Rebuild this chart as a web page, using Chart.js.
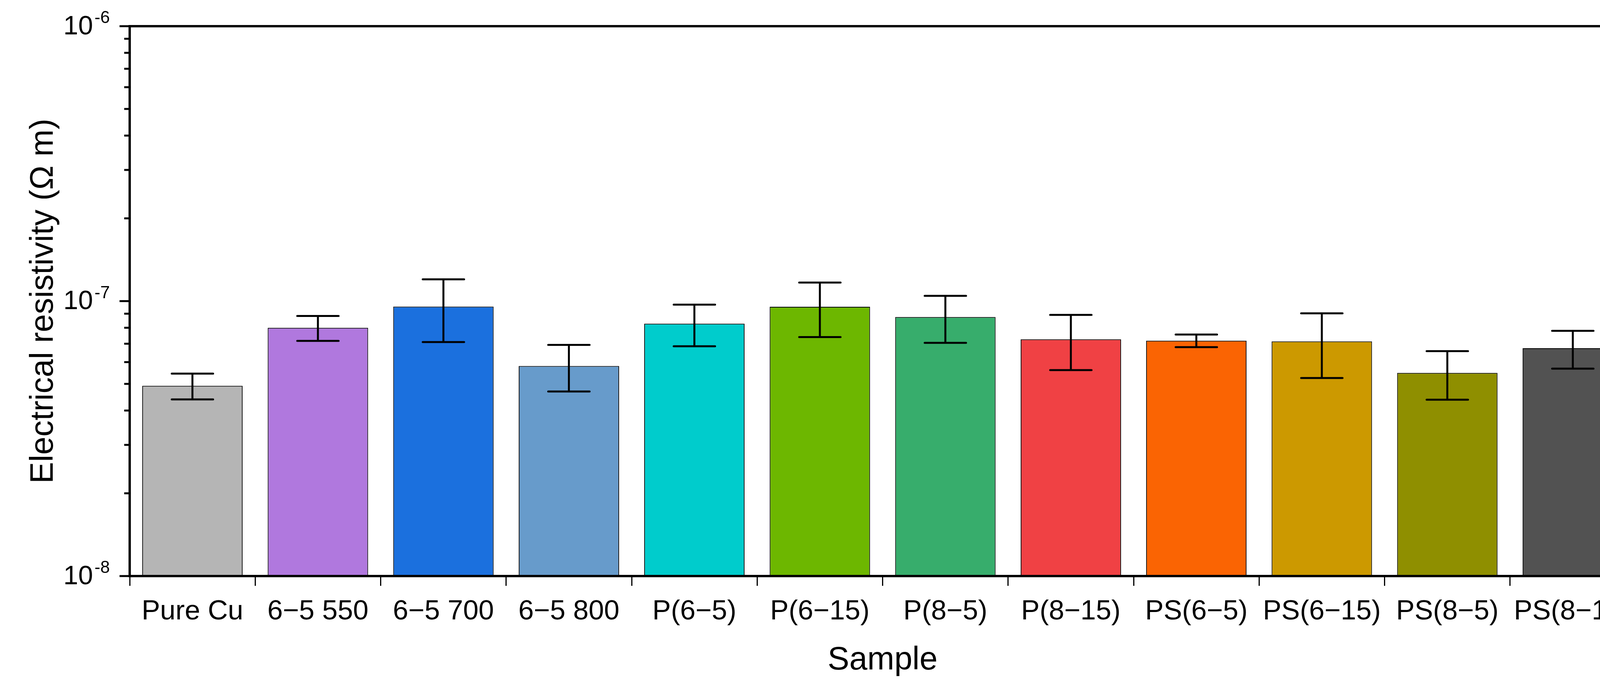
<!DOCTYPE html>
<html>
<head>
<meta charset="utf-8">
<script src="https://cdn.jsdelivr.net/npm/chart.js@4.4.1/dist/chart.umd.min.js"></script>
<style>
  html, body { margin: 0; padding: 0; background: #fff; }
  #wrap { width: 4264px; height: 1763px; }
</style>
</head>
<body>
<div id="wrap"><canvas id="resistivityChart"></canvas></div>
<script>
// sample names and measured values (ohm m)
const samples = ['Pure Cu', '6\u22125 550', '6\u22125 700', '6\u22125 800', 'P(6\u22125)', 'P(6\u221215)',
  'P(8\u22125)', 'P(8\u221215)', 'PS(6\u22125)', 'PS(6\u221215)', 'PS(8\u22125)', 'PS(8\u221215)'];
const resistivity = [4.92e-8, 8.0e-8, 9.55e-8, 5.81e-8, 8.28e-8, 9.54e-8, 8.75e-8, 7.26e-8, 7.18e-8, 7.14e-8, 5.48e-8, 6.74e-8];
const resistivitySd = [0.53e-8, 0.83e-8, 2.45e-8, 1.12e-8, 1.43e-8, 2.14e-8, 1.70e-8, 1.65e-8, 0.38e-8, 1.89e-8, 1.10e-8, 1.06e-8];
const barColors = ['#b5b5b5', '#b078de', '#1b70de', '#679bcb', '#00cccc', '#6db700',
  '#37ad6c', '#f04144', '#fa6403', '#cc9900', '#8f8f00', '#525252'];
const yDecades = [-8, -7, -6];
const yMinor = [2, 3, 4, 5, 6, 7, 8, 9];

const FONT = 'Liberation Sans, Arial, sans-serif';

// error bars, frame, log ticks and superscript labels
const frameAndErrors = {
  id: 'frameAndErrors',
  afterDatasetsDraw(chart) {
    const ctx = chart.ctx;
    const x = chart.scales.x, y = chart.scales.y;
    const area = chart.chartArea;
    ctx.save();
    ctx.strokeStyle = '#000';
    ctx.lineWidth = 5;
    ctx.lineCap = 'round';
    resistivity.forEach((v, i) => {
      const cx = x.getPixelForValue(i);
      const yHi = y.getPixelForValue(v + resistivitySd[i]);
      const yLo = y.getPixelForValue(v - resistivitySd[i]);
      ctx.beginPath();
      ctx.moveTo(cx, yHi); ctx.lineTo(cx, yLo);
      ctx.moveTo(cx - 53, yHi); ctx.lineTo(cx + 53, yHi);
      ctx.moveTo(cx - 53, yLo); ctx.lineTo(cx + 53, yLo);
      ctx.stroke();
    });

    // y ticks
    ctx.lineCap = 'butt';
    ctx.lineWidth = 5;
    yDecades.forEach((e, k) => {
      const py = y.getPixelForValue(Math.pow(10, e));
      ctx.beginPath(); ctx.moveTo(area.left - 26, py); ctx.lineTo(area.left, py); ctx.stroke();
      if (k < yDecades.length - 1) {
        yMinor.forEach(m => {
          const pm = y.getPixelForValue(m * Math.pow(10, e));
          ctx.beginPath(); ctx.moveTo(area.left - 14, pm); ctx.lineTo(area.left, pm); ctx.stroke();
        });
      }
      ctx.fillStyle = '#000';
      ctx.textBaseline = 'middle';
      ctx.textAlign = 'right';
      ctx.font = '68px ' + FONT;
      ctx.fillText('10', area.left - 94, py + 2);
      ctx.textAlign = 'left';
      ctx.font = '44px ' + FONT;
      ctx.fillText(String(e), area.left - 90, py - 20);
    });

    // frame
    ctx.lineWidth = 6;
    ctx.strokeRect(area.left, area.top, area.right - area.left, area.bottom - area.top);
    ctx.restore();
  }
};

new Chart(document.getElementById('resistivityChart'), {
  type: 'bar',
  data: {
    labels: samples,
    datasets: [{
      label: 'Electrical resistivity',
      data: resistivity,
      backgroundColor: barColors,
      borderColor: '#000',
      borderWidth: 2,
      barPercentage: 0.8,
      categoryPercentage: 1.0
    }]
  },
  options: {
    responsive: true,
    maintainAspectRatio: false,
    devicePixelRatio: 1,
    animation: false,
    layout: { padding: { top: 67, right: 77, left: 0, bottom: 0 } },
    plugins: { legend: { display: false }, tooltip: { enabled: false } },
    scales: {
      x: {
        type: 'category',
        offset: true,
        grid: { display: true, drawOnChartArea: false, drawTicks: true, tickLength: 25, lineWidth: 3, color: '#000' },
        border: { display: false },
        ticks: { color: '#000', font: { family: FONT, size: 71 }, padding: 24, maxRotation: 0, autoSkip: false },
        title: { display: true, text: 'Sample', color: '#000', font: { family: FONT, size: 83 }, padding: { top: 0, bottom: 23 } },
        afterFit(scale) { scale.height = 289; }
      },
      y: {
        type: 'logarithmic',
        min: 1e-8,
        max: 1e-6,
        grid: { display: false },
        border: { display: false },
        ticks: { display: false },
        title: { display: true, text: 'Electrical resistivity (\u03a9 m)', color: '#000', font: { family: FONT, size: 83 }, padding: { top: 62, bottom: 0 } },
        afterFit(scale) { scale.width = 332; }
      }
    }
  },
  plugins: [frameAndErrors]
});
</script>
</body>
</html>
